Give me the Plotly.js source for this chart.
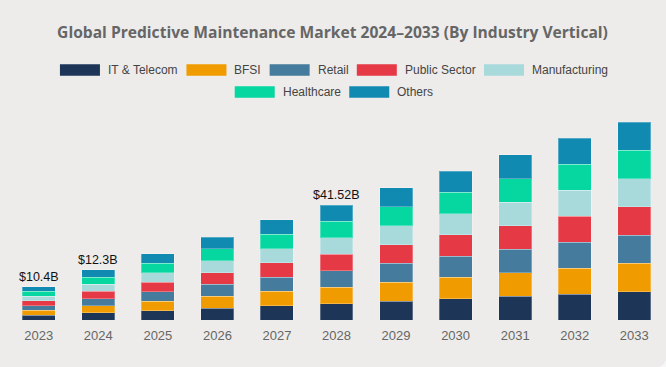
<!DOCTYPE html>
<html>
<head>
<meta charset="utf-8">
<script src="https://cdn.plot.ly/plotly-3.0.1.min.js"></script>
<style>
  html, body { margin: 0; padding: 0; background: #f7f7f7; }
  #chart { width: 666px; height: 367px; border-bottom-right-radius: 9px; overflow: hidden; background: #edecea; }
</style>
</head>
<body>
<div id="chart"></div>
<script>
// ---- Data (USD billion) ----
var years = ['2023','2024','2025','2026','2027','2028','2029','2030','2031','2032','2033'];
var itTelecom     = [1.72, 2.58, 3.42, 4.28, 5.16, 5.93, 6.81, 7.68, 8.51, 9.38, 10.2];
var bfsi          = [1.72, 2.58, 3.42, 4.28, 5.16, 5.93, 6.81, 7.68, 8.51, 9.38, 10.2];
var retail        = [1.72, 2.58, 3.42, 4.28, 5.16, 5.93, 6.81, 7.68, 8.51, 9.38, 10.2];
var publicSector  = [1.72, 2.58, 3.42, 4.28, 5.16, 5.93, 6.81, 7.68, 8.51, 9.38, 10.2];
var manufacturing = [1.72, 2.58, 3.42, 4.28, 5.16, 5.93, 6.81, 7.68, 8.51, 9.38, 10.2];
var healthcare    = [1.72, 2.58, 3.42, 4.28, 5.16, 5.93, 6.81, 7.68, 8.51, 9.38, 10.2];
var others        = [1.72, 2.58, 3.42, 4.28, 5.16, 5.93, 6.81, 7.68, 8.51, 9.38, 10.2];

var seriesNames  = ['IT & Telecom','BFSI','Retail','Public Sector','Manufacturing','Healthcare','Others'];
var seriesValues = [itTelecom, bfsi, retail, publicSector, manufacturing, healthcare, others];
var seriesColors = ['#1d3557','#f09c00','#457b9d','#e63946','#a8dadc','#06d6a0','#118ab2'];

var labelYears = ['2023','2024','2028'];
var labelTexts = ['$10.4B','$12.3B','$41.52B'];

var titleText = 'Global Predictive Maintenance Market 2024\u20132033 (By Industry Vertical)';

// ---- Layout geometry ----
var W = 666, H = 367;
var M = {l: 9, r: 2, t: 100, b: 47};
var plotW = W - M.l - M.r, plotH = H - M.t - M.b;
function pxX(px) { return (px - M.l) / plotW; }
function pxY(py) { return (H - M.b - py) / plotH; }

var traces = seriesNames.map(function (name, i) {
  return {
    type: 'bar', name: name, x: years, y: seriesValues[i],
    marker: {color: seriesColors[i], line: {color: 'rgba(255,255,255,0.28)', width: 1}},
    hoverinfo: 'x+y+name', showlegend: false
  };
});

// totals for label placement
var totals = years.map(function (_, j) {
  return seriesValues.reduce(function (s, arr) { return s + arr[j]; }, 0);
});

var annotations = labelYears.map(function (yr, k) {
  var j = years.indexOf(yr);
  return {
    x: j, y: totals[j], xref: 'x', yref: 'y', text: labelTexts[k], showarrow: false,
    yanchor: 'bottom', yshift: 1,
    font: {family: 'Liberation Sans, Arial, sans-serif', size: 12.5, color: '#111'}
  };
});

// custom legend (wide swatches)
var shapes = [];
var ctx = document.createElement('canvas').getContext('2d');
var legFont = '12px "Liberation Sans", Arial, sans-serif';
ctx.font = legFont;
var rows = [[0,1,2,3,4],[5,6]];
var rowY = [70, 92];
var swW = 40, swH = 11.5, gapText = 6, gapItem = 10.5;
rows.forEach(function (row, r) {
  var widths = row.map(function (i) { return ctx.measureText(seriesNames[i]).width; });
  var total = widths.reduce(function (s, w) { return s + swW + gapText + w; }, 0) + gapItem * (row.length - 1);
  var x = 333 - total / 2;
  row.forEach(function (i, k) {
    shapes.push({type: 'rect', xref: 'paper', yref: 'paper',
      x0: pxX(x), x1: pxX(x + swW), y0: pxY(rowY[r] + swH / 2), y1: pxY(rowY[r] - swH / 2),
      fillcolor: seriesColors[i], line: {width: 0}});
    annotations.push({xref: 'paper', yref: 'paper', x: pxX(x + swW + gapText), y: pxY(rowY[r]),
      xanchor: 'left', yanchor: 'middle', showarrow: false, text: seriesNames[i],
      font: {family: 'Liberation Sans, Arial, sans-serif', size: 12, color: '#444'}});
    x += swW + gapText + widths[k] + gapItem;
  });
});

var layout = {
  width: W, height: H,
  margin: M,
  paper_bgcolor: '#edecea', plot_bgcolor: '#edecea',
  barmode: 'stack', bargap: 0.446,
  title: {text: '<b>' + titleText + '</b>', x: 332.5 / W, xref: 'container', xanchor: 'center',
          y: 1 - 33 / H, yanchor: 'middle',
          font: {family: 'Open Sans, sans-serif', size: 15.6, color: '#666'}},
  xaxis: {type: 'category', range: [-0.5, years.length - 0.5], autorange: false,
          showgrid: false, zeroline: false, showline: false, ticks: '',
          ticklabelstandoff: 6,
          tickfont: {family: 'Liberation Sans, Arial, sans-serif', size: 13, color: '#666'}},
  yaxis: {range: [0, plotH / 2.77], autorange: false, visible: false, showgrid: false, zeroline: false},
  shapes: shapes,
  annotations: annotations,
  showlegend: false
};

Plotly.newPlot('chart', traces, layout, {displayModeBar: false, staticPlot: true});
</script>
</body>
</html>
